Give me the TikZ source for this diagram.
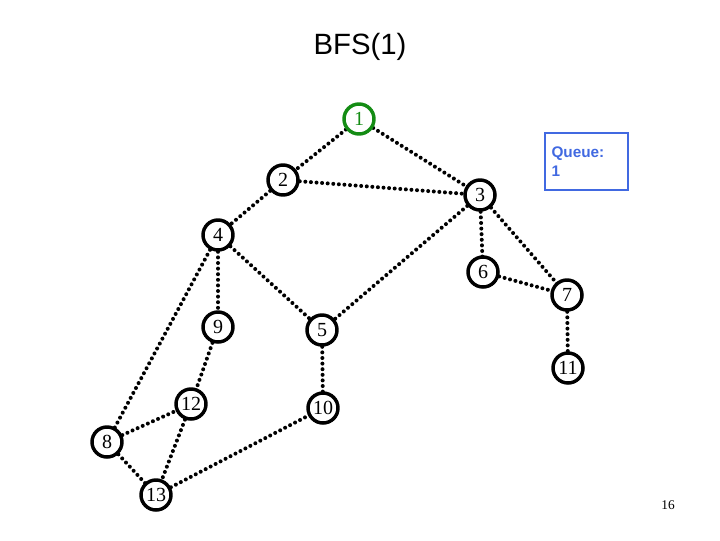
\documentclass[tikz,border=0pt]{standalone}
\usepackage{fontspec}
\setmainfont{Liberation Serif}
\setsansfont{Liberation Sans}
\begin{document}
\begin{tikzpicture}[x=0.75pt,y=-0.75pt,
 vert/.style={circle,draw=black,line width=2.6pt,fill=white,minimum size=30*0.75pt,inner sep=0pt,font=\fontsize{15}{15}\selectfont},
 edge/.style={line width=3pt,line cap=round,dash pattern=on 0pt off 4.2pt}]
\useasboundingbox (0,0) rectangle (720,540);
\node[font=\sffamily\fontsize{22}{22}\selectfont] (title) at (360,47) {BFS(1)};
\coordinate (p1) at (359,119);
\coordinate (p2) at (283,180);
\coordinate (p3) at (480,195);
\coordinate (p4) at (218,235);
\coordinate (p6) at (483,272);
\coordinate (p7) at (567,295);
\coordinate (p9) at (218,327);
\coordinate (p5) at (322,330);
\coordinate (p11) at (568,368);
\coordinate (p12) at (191,404);
\coordinate (p10) at (323,408);
\coordinate (p8) at (107,442);
\coordinate (p13) at (156,495);
\foreach \a/\b in {1/2,1/3,2/3,2/4,3/5,3/6,3/7,4/5,4/8,4/9,6/7,7/11,5/10,9/12,8/12,8/13,12/13,13/10}
  \draw[edge] (p\a) -- (p\b);
\node[vert,draw={rgb,255:red,20;green,140;blue,20},text={rgb,255:red,20;green,140;blue,20}] (n1) at (p1) {1};
\foreach \i in {2,3,4,5,6,7,8,9,10,11,12,13}
  \node[vert] (n\i) at (p\i) {\i};
\node[draw={rgb,255:red,65;green,105;blue,225},line width=2pt,text={rgb,255:red,65;green,105;blue,225},
  font=\sffamily\bfseries\fontsize{11.5}{14}\selectfont,minimum width=83*0.75pt,minimum height=57*0.75pt,
  align=left,text width=70*0.75pt,inner sep=3pt] (queue) at (586.5,161.5) {Queue:\\1};
\node[font=\fontsize{10}{10}\selectfont] (pg) at (668,505) {16};
\end{tikzpicture}
\end{document}
